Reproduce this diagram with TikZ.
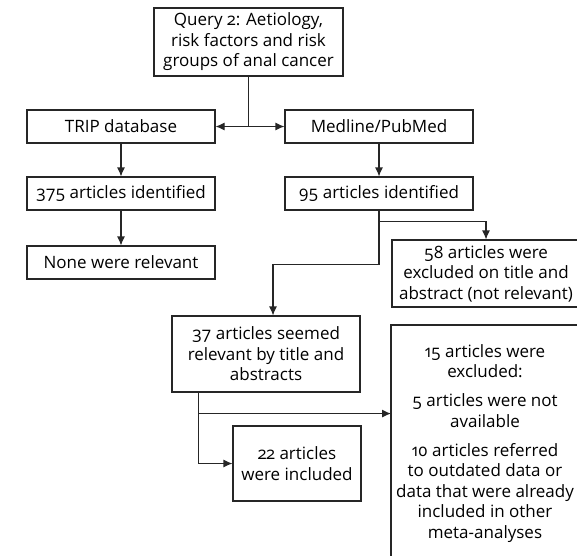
\documentclass[tikz,border=0pt]{standalone}
\usepackage{fontspec}
\setmainfont[Numbers=OldStyle]{Open Sans}
\usetikzlibrary{arrows.meta,calc}

\begin{document}
\begin{tikzpicture}[x=1pt, y=-1pt,
		box/.style={draw=black!85, line width=1.1pt, align=center, inner sep=0pt,
			minimum width=188pt, minimum height=33pt, font=\fontsize{17}{20.5}\selectfont},
		flow/.style={draw=black!85, line width=1.1pt, -{Latex[length=9pt,width=8pt]}},
		link/.style={draw=black!85, line width=1.1pt}]
			%%%%% START %%%%%
			
			\useasboundingbox (0, 0) rectangle (577, 555);
			\clip (0, 0) rectangle (577, 555);
			
			\node[box, minimum width=189pt, minimum height=68pt] (query) at (248.5, 42)
				{Query 2: Aetiology,\\ risk factors and risk\\ groups of anal cancer};
			
			\node[box] (trip) at (121, 126.5) {TRIP database};
			\node[box] (medline) at (379, 126.5) {Medline/PubMed};
			
			\node[box] (found375) at (121, 193.5) {375 articles identified};
			\node[box] (found95) at (379, 193.5) {95 articles identified};
			
			\node[box] (none) at (121, 262.5) {None were relevant};
			\node[box, minimum height=67pt] (excl58) at (486, 273.5)
				{58 articles were\\ excluded on title and\\ abstract (not relevant)};
			
			\node[box, minimum height=76pt] (seemed37) at (266, 354)
				{37 articles seemed\\ relevant by title and\\ abstracts};
			\node[box, minimum width=128pt, minimum height=75pt] (incl22) at (297, 463.5)
				{22 articles\\ were included};
			
			% box runs off the page at right and bottom
			\coordinate (excl15) at (391, 325);
			\draw[draw=black!85, line width=1.1pt] (excl15) rectangle (579.5, 575);
			\node[align=center, anchor=north, inner sep=0pt, font=\fontsize{17}{20.5}\selectfont]
				(text15) at (485, 344)
				{15 articles were\\ excluded:\\[8.5pt] 5 articles were not\\ available\\[8.5pt]
				10 articles referred\\ to outdated data or\\ data that were already\\
				included in other\\ meta-analyses};
			
			%%%%% CONNECTORS %%%%%
			
			\coordinate (split) at (query.south |- trip.east);
			\draw[link] (query.south) -- (split);
			\draw[flow] (split) -- (trip.east);
			\draw[flow] (split) -- (medline.west);
			
			\draw[flow] (trip) -- (found375);
			\draw[flow] (found375) -- (none);
			\draw[flow] (medline) -- (found95);
			
			\coordinate (fork58) at ($(found95.south)+(0, 11)$);
			\coordinate (bend37) at ($(found95.south)+(0, 54)$);
			\coordinate (into37) at ($(seemed37.north)+(7, 0)$);
			\draw[link] (found95.south) -- (bend37);
			\draw[flow] (fork58) -| (excl58.north);
			\draw[flow] (bend37) -| (into37);
			
			\coordinate (out37) at ($(seemed37.south west)+(27, 0)$);
			\coordinate (fork15) at ($(out37)+(0, 21)$);
			\draw[flow] (out37) |- (incl22.west);
			\draw[flow] (fork15) -- (fork15 -| excl15);
			
			%%%%% END %%%%%
\end{tikzpicture}
\end{document}
